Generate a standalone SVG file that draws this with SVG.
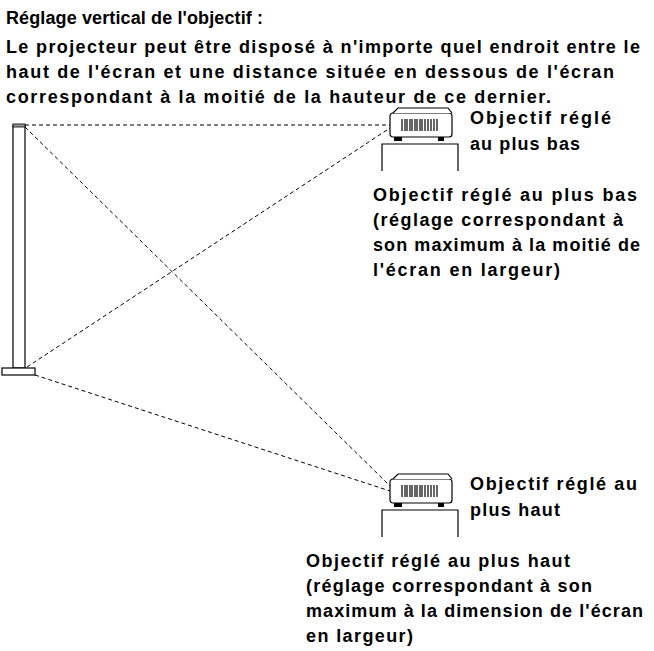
<svg xmlns="http://www.w3.org/2000/svg" width="654" height="651" viewBox="0 0 654 651">
<style>
text{font-family:"Liberation Sans",Arial,sans-serif;font-weight:bold;font-size:18px;fill:#000}
.d{stroke:#000;stroke-width:1;stroke-dasharray:4,3;fill:none}
.o{stroke:#000;stroke-width:1.2;fill:#fff}
</style>
<defs>
<g id="proj">
<rect x="0" y="0" width="62" height="24" rx="3" class="o"/>
<path d="M3,0 L8,-5 L58,-5 L62,0" class="o"/>
<g stroke="#000" stroke-width="1.2">
<line x1="12" y1="6" x2="12" y2="18"/><line x1="15" y1="6" x2="15" y2="18"/><line x1="17" y1="6" x2="17" y2="18"/><line x1="20" y1="6" x2="20" y2="18"/><line x1="22" y1="6" x2="22" y2="18"/><line x1="25" y1="6" x2="25" y2="18"/><line x1="27" y1="6" x2="27" y2="18"/><line x1="30" y1="6" x2="30" y2="18"/><line x1="32" y1="6" x2="32" y2="18"/><line x1="35" y1="6" x2="35" y2="18"/><line x1="38" y1="6" x2="38" y2="18"/><line x1="41" y1="6" x2="41" y2="18"/><line x1="44" y1="6" x2="44" y2="18"/><line x1="47" y1="6" x2="47" y2="18"/>
</g>
<rect x="4" y="24" width="8" height="4" fill="#000"/>
<rect x="48" y="24" width="6" height="4" fill="#000"/>
<path d="M-8,58 V31 H68 V58" fill="none" stroke="#000" stroke-width="1.2"/>
</g>
</defs>
<g id="title">
<text x="6" y="24" textLength="257">Réglage vertical de l'objectif :</text>
<text x="6" y="53" textLength="634">Le projecteur peut être disposé à n'importe quel endroit entre le</text>
<text x="6" y="78" textLength="608">haut de l'écran et une distance située en dessous de l'écran</text>
<text x="6" y="103" textLength="545">correspondant à la moitié de la hauteur de ce dernier.</text>
</g>
<g id="screen">
<rect x="13" y="125" width="12" height="243" class="o"/>
<rect x="13" y="124" width="12" height="3" fill="#999" stroke="#000" stroke-width="0.8"/>
<rect x="2" y="368" width="33" height="7" class="o"/>
</g>
<g id="connectors">
<line x1="25" y1="125" x2="390" y2="125" class="d"/>
<line x1="27" y1="367" x2="390" y2="128" class="d"/>
<line x1="25" y1="127" x2="390" y2="486" class="d"/>
<line x1="35" y1="375" x2="390" y2="491" class="d"/>
</g>
<g id="proj-low">
<use href="#proj" x="390" y="113"/>
<text x="470" y="124" textLength="141">Objectif réglé</text>
<text x="470" y="150" textLength="110">au plus bas</text>
<text x="373" y="201" textLength="264">Objectif réglé au plus bas</text>
<text x="373" y="226" textLength="250">(réglage correspondant à</text>
<text x="373" y="251" textLength="267">son maximum à la moitié de</text>
<text x="373" y="276" textLength="187">l'écran en largeur)</text>
</g>
<g id="proj-high">
<use href="#proj" x="390" y="479"/>
<text x="470" y="490" textLength="167">Objectif réglé au</text>
<text x="470" y="516" textLength="90">plus haut</text>
<text x="306" y="567" textLength="264">Objectif réglé au plus haut</text>
<text x="306" y="592" textLength="286">(réglage correspondant à son</text>
<text x="306" y="617" textLength="337">maximum à la dimension de l'écran</text>
<text x="306" y="642" textLength="107">en largeur)</text>
</g>
</svg>
